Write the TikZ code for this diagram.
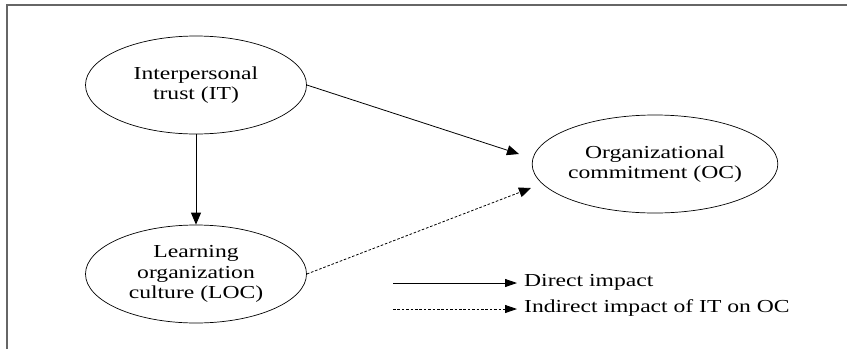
\documentclass[tikz,border=0pt]{standalone}
\usepackage{fontspec}
\setmainfont[FakeStretch=1.29]{Liberation Serif}
\usetikzlibrary{shapes.geometric,arrows.meta}
\begin{document}
\begin{tikzpicture}[x=1pt,y=-1pt,
  oval/.style={ellipse,draw,line width=0.7pt,minimum width=221pt,minimum height=98pt,inner sep=0pt,align=center,font=\fontsize{18.3}{20.5}\selectfont},
  conn/.style={line width=0.8pt,-{Triangle[length=12pt,width=10pt]}},
  dconn/.style={conn,dash pattern=on 2.6pt off 1.8pt},
  legarrow/.style={line width=0.8pt,-{Triangle[length=12pt,width=8pt]}},
  dlegarrow/.style={legarrow,dash pattern=on 2.6pt off 1.8pt},
  legtext/.style={anchor=west,inner sep=0pt,font=\fontsize{18.3}{20}\selectfont}]
\useasboundingbox (0,0) rectangle (847,349);
\draw[gray!80!black,line width=1.3pt] (7,349) -- (7,5) -- (847,5);
\node[oval] (it) at (196,85) {Interpersonal\\trust (IT)};
\node[oval] (loc) at (196,274) {Learning\\organization\\culture (LOC)};
\node[oval] (oc) at (655,164) {Organizational\\commitment (OC)};
\coordinate (t1) at (519,154);
\coordinate (t2) at (531,188);
\draw[conn] (it) -- (loc);
\draw[conn] (it.east) -- (t1);
\draw[dconn] (loc.east) -- (t2);
\coordinate (a1) at (393,283);
\coordinate (b1) at (517,283);
\coordinate (a2) at (393,309);
\coordinate (b2) at (517,309);
\draw[legarrow] (a1) -- (b1);
\draw[dlegarrow] (a2) -- (b2);
\node[legtext] (l1) at (524,282) {Direct impact};
\node[legtext] (l2) at (524,308) {Indirect impact of IT on OC};
\end{tikzpicture}
\end{document}
